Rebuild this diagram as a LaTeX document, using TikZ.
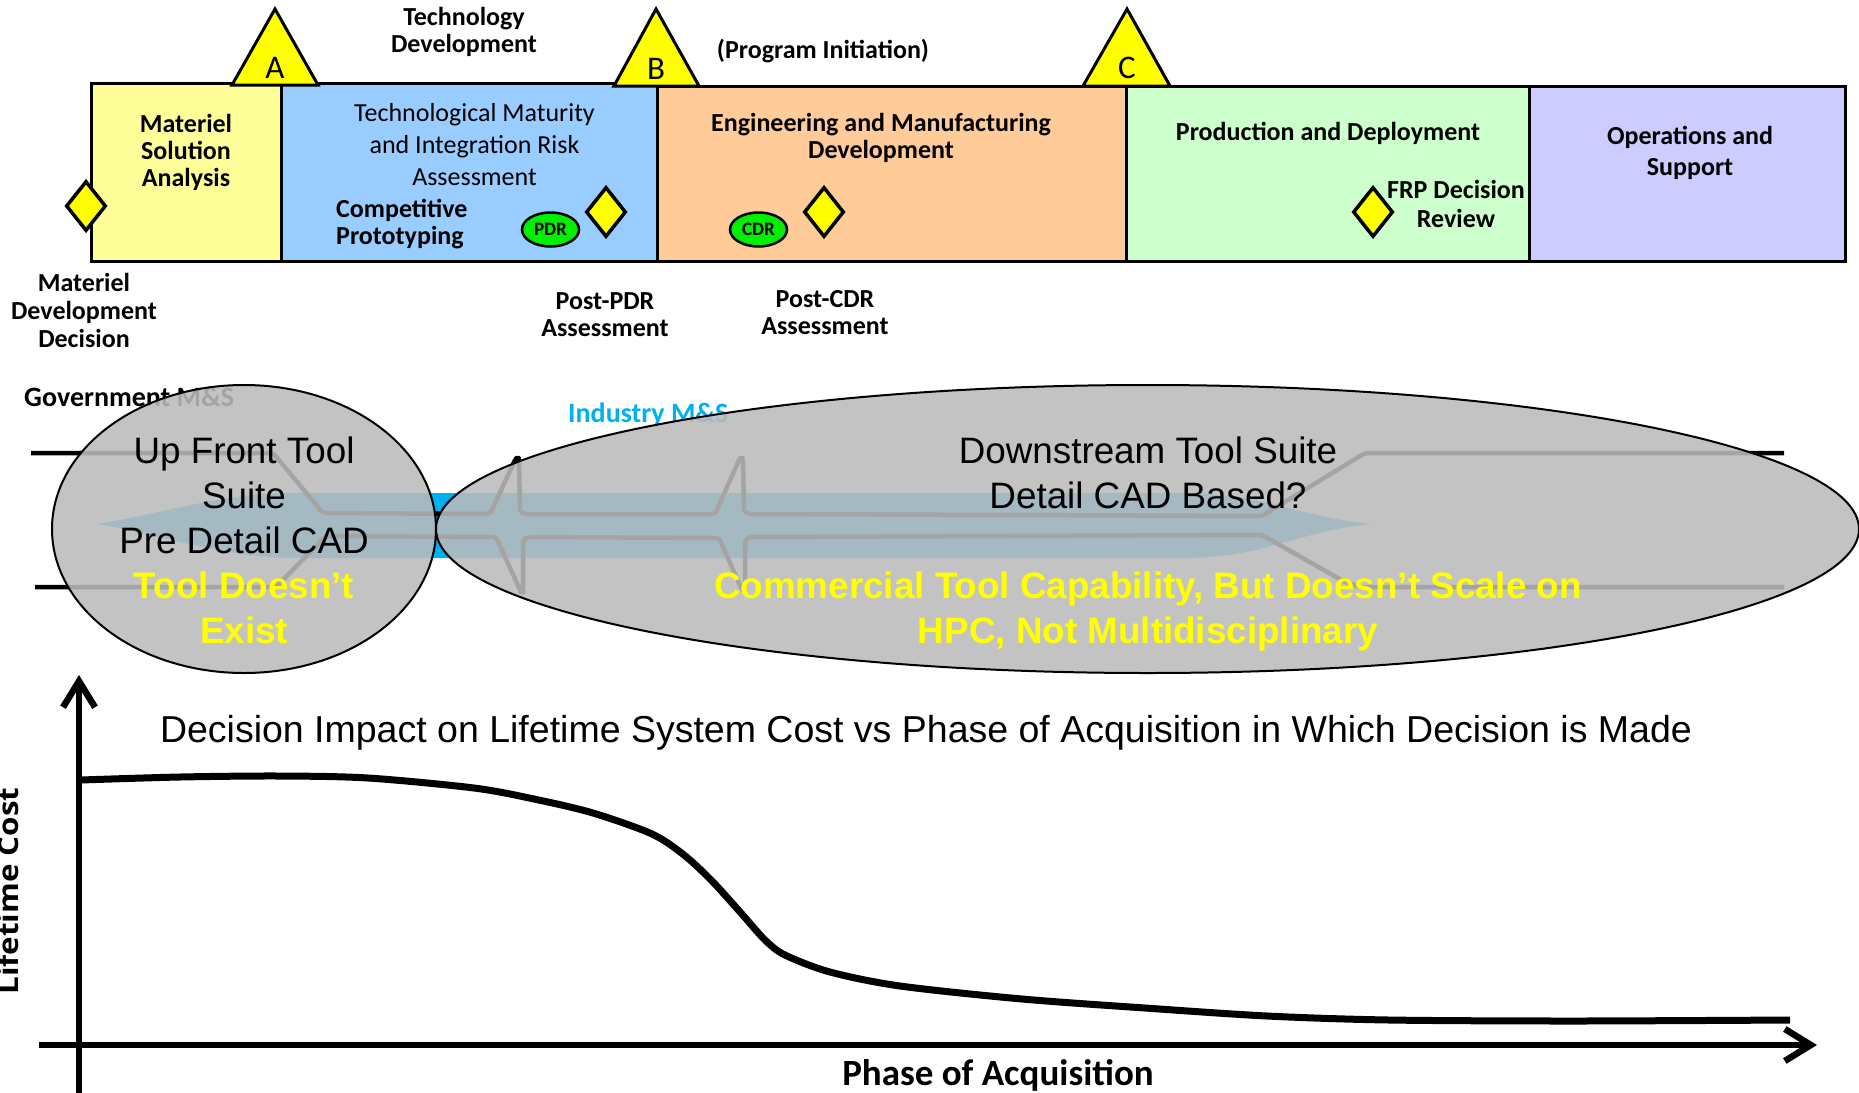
\documentclass[tikz,border=0pt]{standalone}
\usepackage{fontspec}
\setmainfont{Carlito}
\newfontfamily\arialfont{Liberation Sans}
\newfontfamily\axisfont[FakeStretch=1.12]{Open Sans}
\usetikzlibrary{shapes.geometric,arrows.meta}
\definecolor{msacol}{RGB}{255,255,153}
\definecolor{tdcol}{RGB}{153,204,255}
\definecolor{emdcol}{RGB}{255,204,153}
\definecolor{pdcol}{RGB}{204,255,204}
\definecolor{oscol}{RGB}{204,204,255}
\definecolor{gateyellow}{RGB}{255,255,0}
\definecolor{reviewgreen}{RGB}{0,240,0}
\definecolor{pipecyan}{RGB}{0,176,240}
\definecolor{zonegrey}{RGB}{187,187,187}
\begin{document}
\begin{tikzpicture}[x=1pt,y=-1pt,
    phasebox/.style={draw=black,line width=3pt},
    gate/.style={draw=black,line width=3pt,fill=gateyellow,line join=miter},
    gatelbl/.style={font=\fontsize{33}{33}\selectfont},
    milestone/.style={diamond,draw=black,line width=3.5pt,fill=gateyellow,minimum width=40pt,minimum height=50pt},
    review/.style={ellipse,draw=black,line width=2.5pt,fill=reviewgreen,minimum width=57pt,minimum height=34pt,font=\bfseries\fontsize{19}{19}\selectfont},
    boldlbl/.style={align=center,font=\bfseries\fontsize{26}{27}\selectfont},
    plainlbl/.style={align=center,font=\fontsize{26}{32}\selectfont},
    pipe/.style={black,line width=4.5pt,rounded corners=3pt,line join=round},
    zone/.style={ellipse,draw=black,line width=2pt,fill=zonegrey,fill opacity=0.88,text opacity=1},
    zonetxt/.style={align=center,font=\arialfont\fontsize{36.8}{45}\selectfont},
    axisline/.style={line width=6.5pt,-{Straight Barb[length=26pt,width=32pt]}},
    costcurve/.style={line width=7pt}]
    \tikzstyle{every node}+=[inner sep=0pt]
    \useasboundingbox (0,0) rectangle (1859,1092);
    \clip (0,0) rectangle (1859,1092);
    \node [phasebox,fill=msacol,minimum width=190pt,minimum height=178pt] (msa) at (186,172) {};
    \node [phasebox,fill=tdcol,minimum width=376pt,minimum height=178pt] (td) at (469,172) {};
    \node [phasebox,fill=emdcol,minimum width=469pt,minimum height=175pt] (emd) at (891.5,173.5) {};
    \node [phasebox,fill=pdcol,minimum width=403pt,minimum height=175pt] (pd) at (1327.5,173.5) {};
    \node [phasebox,fill=oscol,minimum width=316pt,minimum height=175pt] (os) at (1687,173.5) {};
    \draw [gate] (232,85) -- (275,9) -- (318,85) -- cycle;
    \draw [gate] (614,86) -- (656,9) -- (699,86) -- cycle;
    \draw [gate] (1083,86) -- (1127,9) -- (1170,86) -- cycle;
    \node [gatelbl] (gateA) at (275,68) {A};
    \node [gatelbl] (gateB) at (656,69) {B};
    \node [gatelbl] (gateC) at (1127,68) {C};
    \node [milestone] (mdd) at (86,206) {};
    \node [milestone] (postpdr) at (606,212) {};
    \node [milestone] (postcdr) at (824,212) {};
    \node [milestone] (frp) at (1373,212) {};
    \node [review] (pdr) at (550.5,229.5) {PDR};
    \node [review] (cdr) at (758.5,229.5) {CDR};
    \node [boldlbl] (msatxt) at (186,152) {Materiel\\Solution\\Analysis};
    \node [plainlbl] (tdtxt) at (474.5,145) {Technological Maturity\\and Integration Risk\\Assessment};
    \node [boldlbl,align=left,anchor=west] (cptxt) at (336,224.5) {Competitive\\Prototyping};
    \node [boldlbl] (emdtxt) at (881,138) {Engineering and Manufacturing\\Development};
    \node [boldlbl] (pdtxt) at (1328,133) {Production and Deployment};
    \node [boldlbl,font=\bfseries\fontsize{26}{29}\selectfont] (frptxt) at (1456,203.5) {FRP Decision\\Review};
    \node [boldlbl,font=\bfseries\fontsize{26}{31}\selectfont] (ostxt) at (1690,152.5) {Operations and\\Support};
    \node [boldlbl] (tdhead) at (464,32) {Technology\\Development};
    \node [boldlbl] (pitxt) at (823,51) {(Program Initiation)};
    \node [boldlbl,font=\bfseries\fontsize{26}{28}\selectfont] (mddtxt) at (84,310) {Materiel\\Development\\Decision};
    \node [boldlbl] (pdrtxt) at (605,314.5) {Post-PDR\\Assessment};
    \node [boldlbl] (cdrtxt) at (825,312.5) {Post-CDR\\Assessment};
    \fill [pipecyan] (97,524) .. controls (170,512) and (220,493) .. (300,493) -- (1185,493) .. controls (1265,493) and (1300,518) .. (1373,524) .. controls (1300,530) and (1265,558) .. (1185,558) -- (300,558) .. controls (220,558) and (170,536) .. (97,524) -- cycle;
    \draw [pipe] (31,453) -- (273,453) -- (323,513) -- (490,514) -- (516,458) -- (519,458) -- (520,512) -- (526,514) -- (715,514) -- (740,458) -- (743,458) -- (744,512) -- (750,514) -- (1262,516) -- (1365,453) -- (1784,453);
    \draw [pipe] (35,587) -- (276,587) -- (326,536) -- (496,537) -- (521,592) -- (523,592) -- (523,540) -- (528,537) -- (719,538) -- (742,590) -- (745,590) -- (745,540) -- (750,537) -- (1262,535) -- (1345,582) -- (1360,587) -- (1784,587);
    \node [anchor=base west,font=\bfseries\fontsize{28}{28}\selectfont] (govms) at (24,406) {Government M\&S};
    \node [anchor=base west,text=pipecyan,font=\bfseries\fontsize{28}{28}\selectfont] (indms) at (568,422) {Industry M\&S};
    \node [zone,minimum width=384pt,minimum height=288pt] (upfront) at (244,529) {};
    \node [zone,minimum width=1423pt,minimum height=288pt] (downstream) at (1147.5,529) {};
    \node [zonetxt] (upfronttxt) at (244,540) {Up Front Tool\\Suite\\Pre Detail CAD\\\textcolor{gateyellow}{\bfseries Tool Doesn’t}\\\textcolor{gateyellow}{\bfseries Exist}};
    \node [zonetxt] (downtxt) at (1148,543.5) {Downstream Tool Suite\\Detail CAD Based?\\[45pt]\textcolor{gateyellow}{\bfseries Commercial Tool Capability, But Doesn’t Scale on}\\\textcolor{gateyellow}{\bfseries HPC, Not Multidisciplinary}};
    \coordinate (yfoot) at (79,1096);
    \coordinate (ytip) at (79,675);
    \coordinate (xfoot) at (39,1045);
    \coordinate (xtip) at (1817,1045);
    \draw [axisline] (yfoot) -- (ytip);
    \draw [axisline] (xfoot) -- (xtip);
    \draw [costcurve] plot [smooth,tension=0.5] coordinates {(81,780) (180,777) (279,776) (368,778) (474,788) (534,799) (593,813) (652,834) (684,855) (712,881) (741,913) (765,940) (785,955) (830,972) (900,986) (1022,999) (1145,1008) (1267,1016) (1389,1020) (1573,1021) (1790,1020)};
    \node [anchor=base,font=\arialfont\fontsize{37.5}{45}\selectfont] (charttitle) at (926,742) {Decision Impact on Lifetime System Cost vs Phase of Acquisition in Which Decision is Made};
    \node [anchor=base,font=\bfseries\fontsize{37}{37}\selectfont] (phaselbl) at (998,1085) {Phase of Acquisition};
    \node [anchor=base,rotate=90,font=\axisfont\bfseries\fontsize{28}{28}\selectfont] (costlbl) at (18,891) {Lifetime Cost};
\end{tikzpicture}
\end{document}
